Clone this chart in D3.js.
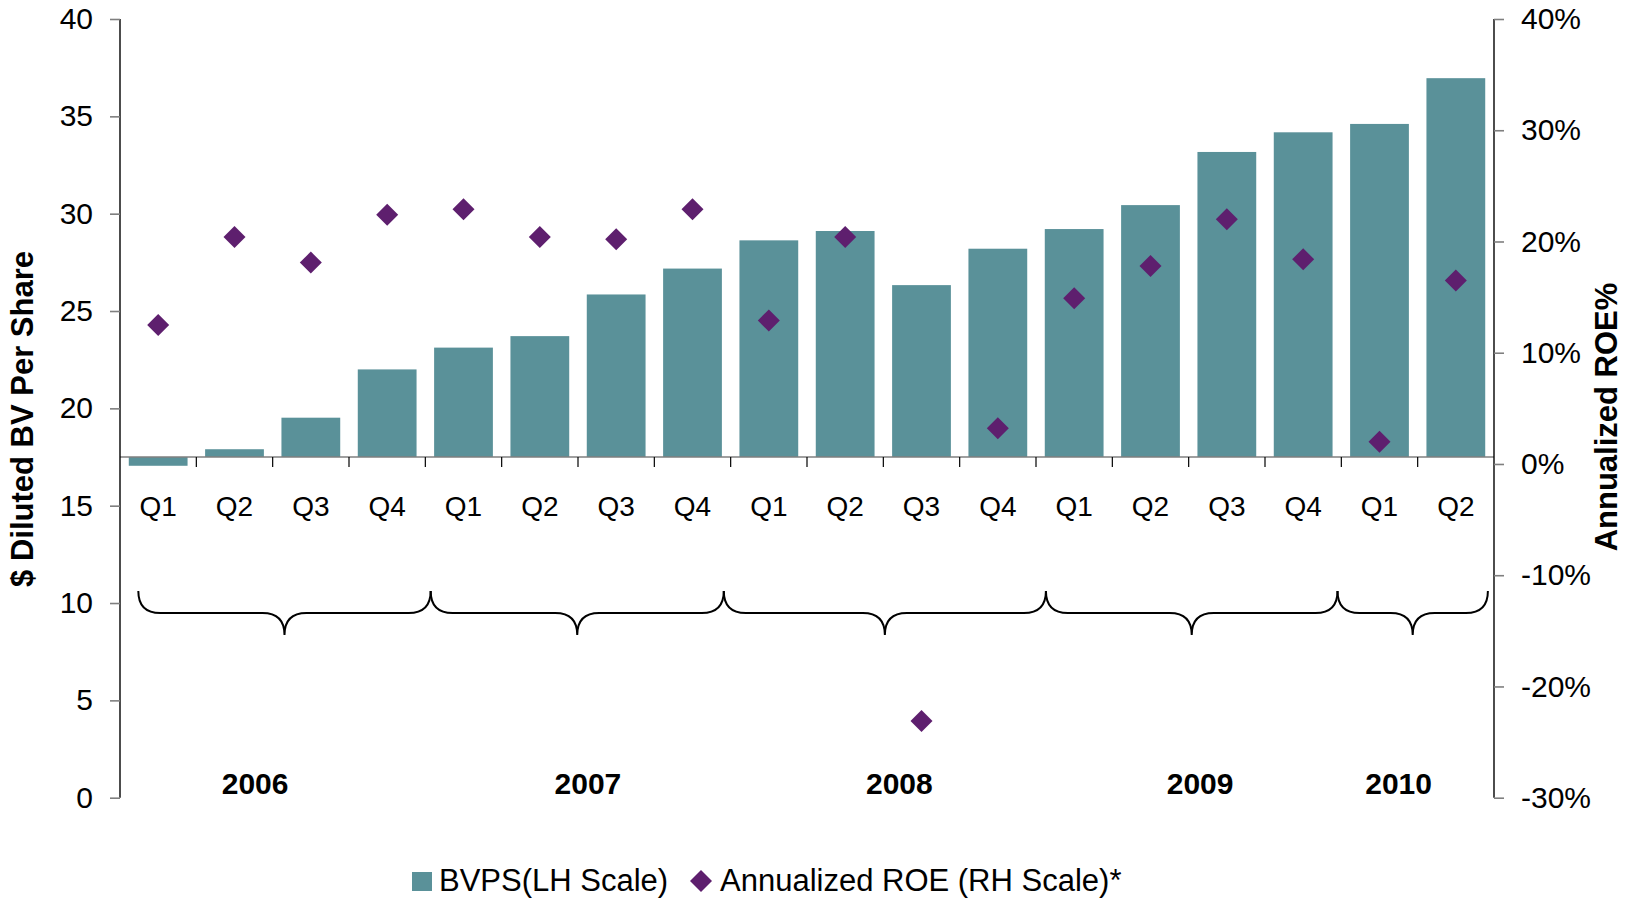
<!DOCTYPE html>
<html>
<head>
<meta charset="utf-8">
<script src="https://cdn.jsdelivr.net/npm/d3@7/dist/d3.min.js"></script>
<style>
  html, body { margin: 0; padding: 0; background: #ffffff; }
  svg { display: block; font-family: "Liberation Sans", Arial, sans-serif; }
</style>
</head>
<body>
<svg id="chart" width="1631" height="898"></svg>
<script>
// ---- data ----
const quarters = ["Q1","Q2","Q3","Q4","Q1","Q2","Q3","Q4","Q1","Q2","Q3","Q4","Q1","Q2","Q3","Q4","Q1","Q2"];
const bvps = [17.05, 17.9, 19.52, 22.0, 23.12, 23.71, 25.85, 27.18, 28.63, 29.11, 26.33, 28.2, 29.21, 30.44, 33.17, 34.18, 34.61, 36.96];
const roe  = [0.125, 0.204, 0.181, 0.224, 0.229, 0.204, 0.202, 0.229, 0.129, 0.204, -0.231, 0.032, 0.149, 0.178, 0.220, 0.184, 0.020, 0.165];
const years = ["2006","2007","2008","2009","2010"];
// brace boundaries and year label positions, in category units along the x axis
const braceBounds = [0.24, 4.07, 7.91, 12.13, 15.95, 17.92];
const yearLabelPos = [1.77, 6.13, 10.21, 14.15, 16.75];
const leftTicks = [0, 5, 10, 15, 20, 25, 30, 35, 40];
const rightTicks = [-0.3, -0.2, -0.1, 0, 0.1, 0.2, 0.3, 0.4];
const axisCross = 17.5;
const seriesNames = ["BVPS(LH Scale)", "Annualized ROE (RH Scale)*"];
const leftTitle = "$ Diluted BV Per Share";
const rightTitle = "Annualized ROE%";

// ---- layout ----
const X0 = 120, X1 = 1494, YTOP = 19, YBOT = 797.7;
const barColor = "#5A9199";
const dotColor = "#5E1F6E";
const svg = d3.select("#chart");

const idx = d3.range(quarters.length);
const xBand = d3.scaleBand().domain(idx).range([X0, X1]).paddingInner(0.23).paddingOuter(0.115);
const xLin = d3.scaleLinear().domain([0, quarters.length]).range([X0, X1]);
const yL = d3.scaleLinear().domain([0, 40]).range([YBOT, YTOP]);
const yR = d3.scaleLinear().domain([-0.3, 0.4]).range([YBOT, YTOP]);

// bars
svg.append("g").selectAll("rect").data(bvps).join("rect")
  .attr("x", (d, i) => xBand(i))
  .attr("width", xBand.bandwidth())
  .attr("y", d => Math.min(yL(d), yL(axisCross)))
  .attr("height", d => Math.abs(yL(d) - yL(axisCross)))
  .attr("fill", barColor);

// category axis line
svg.append("line")
  .attr("x1", X0).attr("x2", X1)
  .attr("y1", yL(axisCross)).attr("y2", yL(axisCross))
  .attr("stroke", "#7f7f7f").attr("stroke-width", 1.6);

// category ticks
svg.append("g").selectAll("line").data(d3.range(1, quarters.length)).join("line")
  .attr("x1", d => xLin(d)).attr("x2", d => xLin(d))
  .attr("y1", yL(axisCross)).attr("y2", yL(axisCross) + 10)
  .attr("stroke", "#000").attr("stroke-width", 1.2);

// quarter labels
svg.append("g").selectAll("text").data(quarters).join("text")
  .attr("x", (d, i) => xLin(i + 0.5))
  .attr("y", 516)
  .attr("text-anchor", "middle")
  .attr("font-size", 28)
  .attr("fill", "#000")
  .text(d => d);

// left axis
const gL = svg.append("g").attr("transform", `translate(${X0},0)`)
  .call(d3.axisLeft(yL).tickValues(leftTicks).tickSize(10).tickPadding(17).tickFormat(d3.format("d")));
gL.select(".domain").attr("stroke", "#000").attr("stroke-width", 1.4).attr("d", `M0,${YTOP}V${YBOT}`);
gL.selectAll(".tick line").attr("stroke", "#7f7f7f").attr("stroke-width", 1.6);
gL.selectAll(".tick text").attr("font-size", 30).attr("font-family", "Liberation Sans, Arial, sans-serif").attr("fill", "#000");

// right axis
const pct = d => Math.round(d * 100) + "%";
const gR = svg.append("g").attr("transform", `translate(${X1},0)`)
  .call(d3.axisRight(yR).tickValues(rightTicks).tickSize(10).tickPadding(17).tickFormat(pct));
gR.select(".domain").attr("stroke", "#000").attr("stroke-width", 1.4).attr("d", `M0,${YTOP}V${YBOT}`);
gR.selectAll(".tick line").attr("stroke", "#7f7f7f").attr("stroke-width", 1.6);
gR.selectAll(".tick text").attr("font-size", 30).attr("font-family", "Liberation Sans, Arial, sans-serif").attr("fill", "#000");

// ROE diamonds
const diamond = d3.symbol().type(d3.symbolSquare).size(242);
svg.append("g").selectAll("path").data(roe).join("path")
  .attr("d", diamond)
  .attr("transform", (d, i) => `translate(${xLin(i + 0.5)},${yR(d)}) rotate(45)`)
  .attr("fill", dotColor);

// braces
function bracePath(a, b) {
  const x0 = xLin(a), x1 = xLin(b), xc = (x0 + x1) / 2;
  const yt = 591, ym = 613, yp = 635, r = 22;
  return `M${x0},${yt} Q${x0},${ym} ${x0 + r},${ym} L${xc - r},${ym} Q${xc},${ym} ${xc},${yp}` +
         ` Q${xc},${ym} ${xc + r},${ym} L${x1 - r},${ym} Q${x1},${ym} ${x1},${yt}`;
}
svg.append("g").selectAll("path").data(d3.range(years.length)).join("path")
  .attr("d", i => bracePath(braceBounds[i], braceBounds[i + 1]))
  .attr("fill", "none").attr("stroke", "#000").attr("stroke-width", 2);

// year labels
svg.append("g").selectAll("text").data(years).join("text")
  .attr("x", (d, i) => xLin(yearLabelPos[i]))
  .attr("y", 794)
  .attr("text-anchor", "middle")
  .attr("font-size", 30).attr("font-weight", "bold")
  .text(d => d);

// axis titles
svg.append("text")
  .attr("transform", `translate(33,419) rotate(-90)`)
  .attr("text-anchor", "middle")
  .attr("font-size", 31).attr("font-weight", "bold")
  .text(leftTitle);
svg.append("text")
  .attr("transform", `translate(1617,417) rotate(-90)`)
  .attr("text-anchor", "middle")
  .attr("font-size", 31).attr("font-weight", "bold")
  .text(rightTitle);

// legend
const lg = svg.append("g");
lg.append("rect").attr("x", 412).attr("y", 872).attr("width", 20).attr("height", 19).attr("fill", barColor);
lg.append("text").attr("x", 439).attr("y", 891).attr("font-size", 31).text(seriesNames[0]);
lg.append("path").attr("d", diamond).attr("transform", "translate(701,881) rotate(45)").attr("fill", dotColor);
lg.append("text").attr("x", 720).attr("y", 891).attr("font-size", 31).text(seriesNames[1]);
</script>
</body>
</html>
